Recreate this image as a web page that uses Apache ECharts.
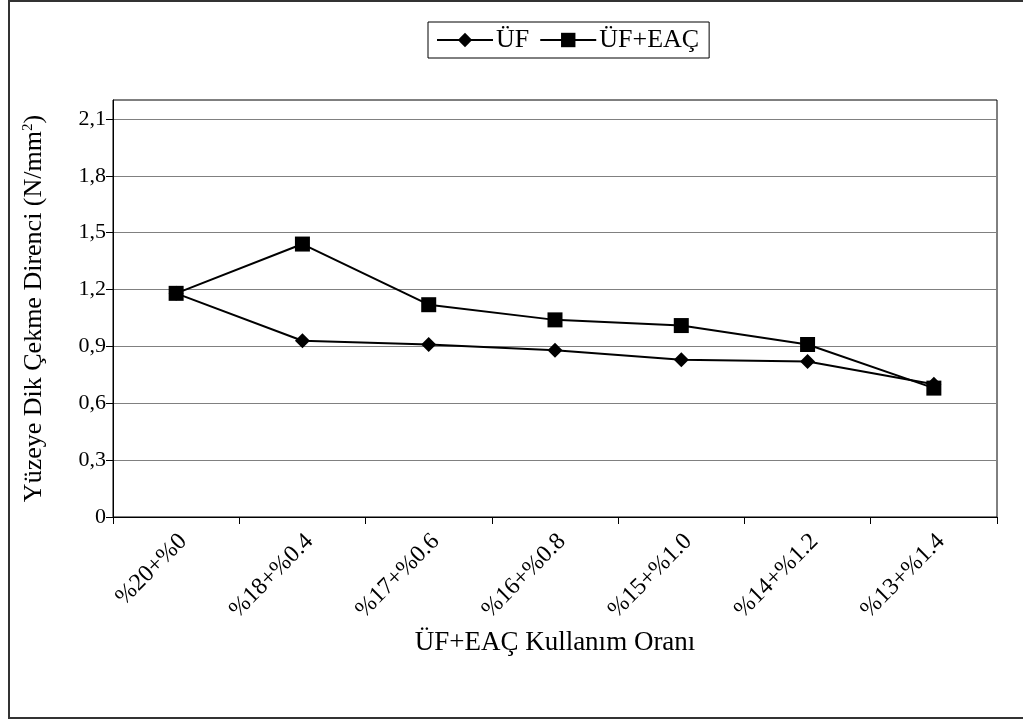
<!DOCTYPE html>
<html>
<head>
<meta charset="utf-8">
<style>
  html, body { margin: 0; padding: 0; background: #fff; }
  #chart { width: 1023px; height: 722px; }
</style>
<script src="https://cdn.jsdelivr.net/npm/echarts@6/dist/echarts.min.js"></script>
</head>
<body>
<div id="chart"></div>
<script>
// Mix ratios of urea-formaldehyde (ÜF) and additive (EAÇ)
const categories = ['%20+%0', '%18+%0.4', '%17+%0.6', '%16+%0.8', '%15+%1.0', '%14+%1.2', '%13+%1.4'];
// Internal bond strength, N/mm²
const ufValues    = [1.18, 0.93, 0.91, 0.88, 0.83, 0.82, 0.70];
const ufEacValues = [1.18, 1.44, 1.12, 1.04, 1.01, 0.91, 0.68];
const seriesNames = ['ÜF', 'ÜF+EAÇ'];
const yTickValues = [0, 0.3, 0.6, 0.9, 1.2, 1.5, 1.8, 2.1];

const serif = '"Liberation Serif", "Times New Roman", serif';
const chart = echarts.init(document.getElementById('chart'), null, { renderer: 'canvas' });

chart.setOption({
  backgroundColor: '#fff',
  animation: false,
  textStyle: { fontFamily: serif, color: '#000' },
  graphic: [{
    type: 'rect',
    shape: { x: 9, y: 1, width: 1030, height: 717 },
    style: { fill: 'none', stroke: '#333', lineWidth: 2 },
    silent: true
  }],
  legend: {
    left: 428,
    top: 22,
    orient: 'horizontal',
    borderColor: '#000',
    borderWidth: 1,
    padding: [5, 10, 5, 8],
    itemGap: 10,
    itemWidth: 56,
    itemHeight: 18,
    textStyle: { fontFamily: serif, fontSize: 26, color: '#000', padding: [0, 0, 0, -2] },
    data: seriesNames
  },
  grid: {
    left: 113, top: 100, width: 884, height: 417,
    show: true, borderColor: '#000', borderWidth: 1, backgroundColor: 'transparent'
  },
  xAxis: {
    type: 'category',
    data: categories,
    boundaryGap: true,
    name: 'ÜF+EAÇ Kullanım Oranı',
    nameLocation: 'middle',
    nameGap: 111,
    nameTextStyle: { fontFamily: serif, fontSize: 27, color: '#000' },
    axisLine: { lineStyle: { color: '#000', width: 1 } },
    axisTick: { show: true, length: 7, lineStyle: { color: '#000' }, alignWithLabel: false },
    axisLabel: {
      rotate: 45, margin: 28, interval: 0,
      padding: [0, -10, 0, 0],
      fontFamily: serif, fontSize: 24, color: '#000'
    },
    splitLine: { show: false }
  },
  yAxis: {
    type: 'value',
    min: 0,
    max: 2.2,
    interval: 0.3,
    name: 'Yüzeye Dik Çekme Direnci (N/mm{sup|2})',
    nameLocation: 'middle',
    nameRotate: 90,
    nameGap: 66,
    nameTextStyle: {
      fontFamily: serif, fontSize: 26, color: '#000',
      rich: { sup: { fontFamily: serif, fontSize: 15, color: '#000', verticalAlign: 'top', padding: [0, 0, 10, 0] } }
    },
    axisLine: { show: true, lineStyle: { color: '#000', width: 1 } },
    axisTick: { show: true, length: 7, lineStyle: { color: '#000' }, customValues: yTickValues },
    axisLabel: {
      margin: 7, fontFamily: serif, fontSize: 22, color: '#000',
      customValues: yTickValues,
      formatter: v => String(Math.round(v * 10) / 10).replace('.', ',')
    },
    splitLine: { show: true, lineStyle: { color: '#808080', width: 1 } }
  },
  series: [
    {
      name: seriesNames[0],
      type: 'line',
      data: ufValues,
      symbol: 'diamond',
      symbolSize: 15,
      lineStyle: { color: '#000', width: 2 },
      itemStyle: { color: '#000' }
    },
    {
      name: seriesNames[1],
      type: 'line',
      data: ufEacValues,
      symbol: 'rect',
      symbolSize: 15,
      lineStyle: { color: '#000', width: 2 },
      itemStyle: { color: '#000' }
    }
  ]
});
</script>
</body>
</html>
